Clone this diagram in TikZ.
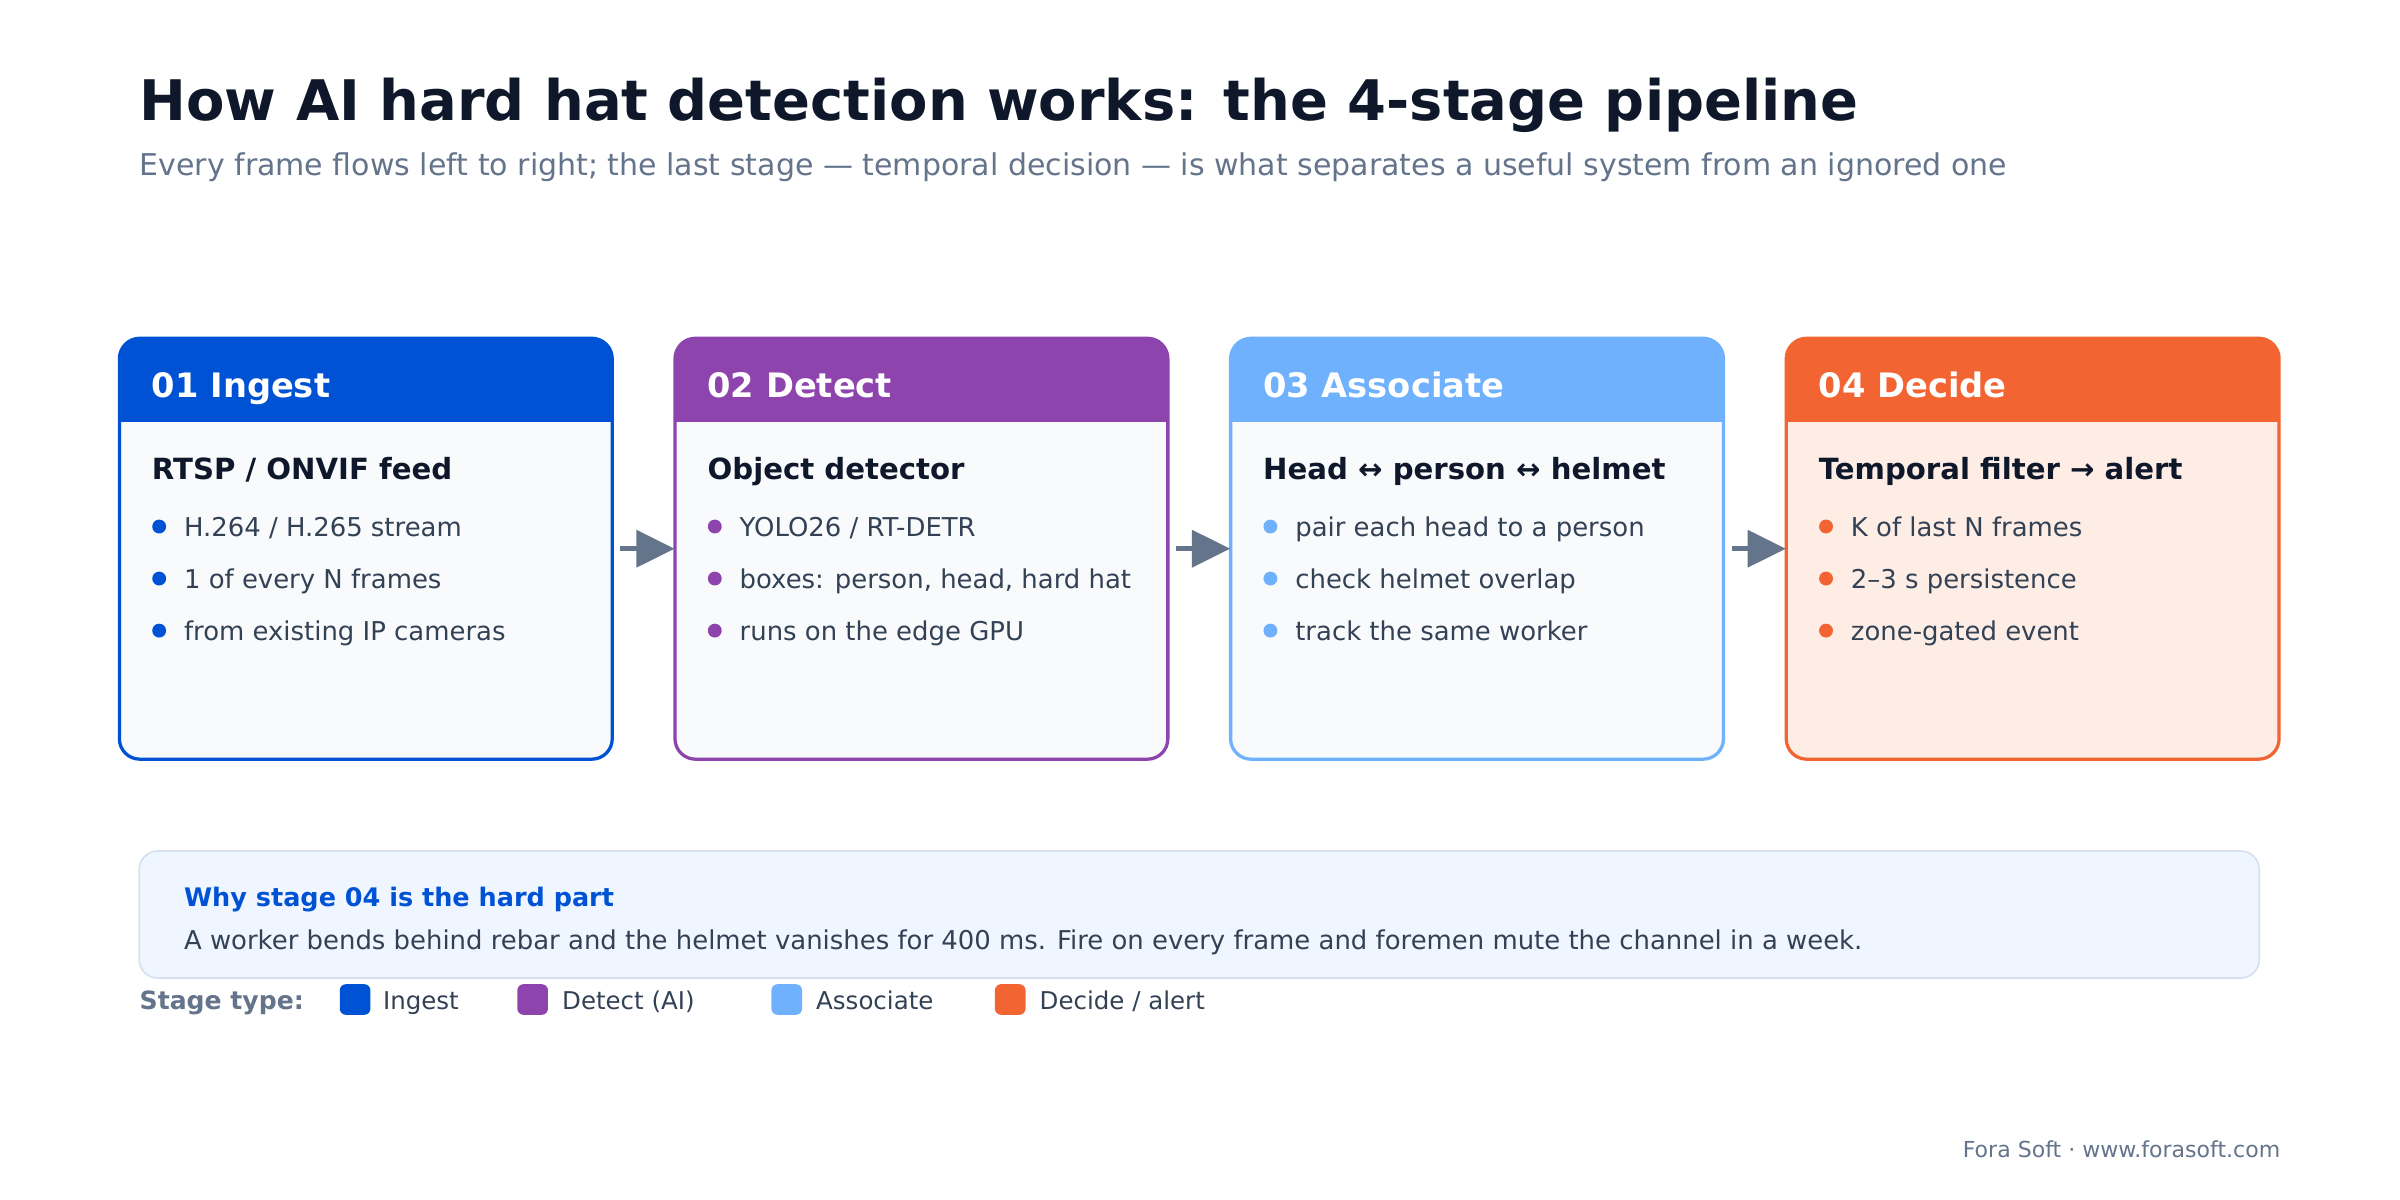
\documentclass[tikz,border=0pt]{standalone}
\usepackage{fontspec}
\setmainfont{DejaVu Sans}
\usetikzlibrary{arrows.meta}
\definecolor{cA}{HTML}{0052D4}
\definecolor{cB}{HTML}{8E44AD}
\definecolor{cC}{HTML}{6FB1FC}
\definecolor{cD}{HTML}{F26532}
\definecolor{bodyF}{HTML}{F8FAFC}
\definecolor{bodyD}{HTML}{FDEDE5}
\definecolor{ttl}{HTML}{0F172A}
\definecolor{sub}{HTML}{64748B}
\definecolor{txt}{HTML}{334155}
\definecolor{noteF}{HTML}{EFF6FF}
\definecolor{noteB}{HTML}{D6E0EE}
\tikzset{
 tx/.style={text height=0.72em,text depth=0.2em,yshift=-2.3pt},
 hd/.style={tx,yshift=-1.5pt,anchor=west,font=\fontsize{16.5}{20}\selectfont\bfseries,text=white,inner sep=0},
 sb/.style={tx,anchor=west,font=\fontsize{14.3}{17}\selectfont\bfseries,text=ttl,inner sep=0},
 bl/.style={tx,anchor=west,font=\fontsize{12.7}{15}\selectfont,text=txt,inner sep=0},
 lg/.style={tx,anchor=west,font=\fontsize{12}{14}\selectfont,text=txt,inner sep=0},
 arr/.style={draw=sub,line width=2.2pt,-{Triangle[length=18.75pt,width=18pt]},shorten <=3.75pt}
}
\newcommand{\mycard}[9]{%
 \node[minimum width=241.5pt,minimum height=206.25pt,inner sep=0] (#9) at (#1+161,358.5) {};
 \begin{scope}
 \clip[rounded corners=10pt] (#1,221) rectangle (#1+322,496);
 \fill[#3] (#1,221) rectangle (#1+322,496);
 \fill[#2] (#1,221) rectangle (#1+322,276);
 \end{scope}
 \draw[#2,line width=1.6pt,rounded corners=10pt] (#1,221) rectangle (#1+322,496);
 \node[hd] (#9h) at (#1+21,251) {#4};
 \node[sb] (#9s) at (#1+21,307) {#5};
 \fill[#2] (#1+26,344) circle (3.4pt);
 \fill[#2] (#1+26,378) circle (3.4pt);
 \fill[#2] (#1+26,412) circle (3.4pt);
 \node[bl] (#9a) at (#1+42,344) {#6};
 \node[bl] (#9b) at (#1+42,378) {#7};
 \node[bl] (#9c) at (#1+42,412) {#8};
}
\begin{document}
\begin{tikzpicture}[x=0.75pt,y=-0.75pt]
\useasboundingbox[fill=white] (0,0) rectangle (1568,784);
\node[tx,yshift=-6pt,anchor=west,inner sep=0,font=\fontsize{27.4}{32}\selectfont\bfseries,text=ttl] (title) at (91,64) {How AI hard hat detection works: the 4-stage pipeline};
\node[tx,anchor=west,inner sep=0,font=\fontsize{14.7}{17}\selectfont,text=sub] (subt) at (91,108) {Every frame flows left to right; the last stage — temporal decision — is what separates a useful system from an ignored one};
\mycard{78}{cA}{bodyF}{01 Ingest}{RTSP / ONVIF feed}{H.264 / H.265 stream}{1 of every N frames}{from existing IP cameras}{c1}
\mycard{441}{cB}{bodyF}{02 Detect}{Object detector}{YOLO26 / RT-DETR}{boxes: person, head, hard hat}{runs on the edge GPU}{c2}
\mycard{804}{cC}{bodyF}{03 Associate}{Head ↔ person ↔ helmet}{pair each head to a person}{check helmet overlap}{track the same worker}{c3}
\mycard{1167}{cD}{bodyD}{04 Decide}{Temporal filter → alert}{K of last N frames}{2–3 s persistence}{zone-gated event}{c4}
\draw[arr] (c1.east) -- (c2.west);
\draw[arr] (c2.east) -- (c3.west);
\draw[arr] (c3.east) -- (c4.west);
\draw[fill=noteF,draw=noteB,line width=0.8pt,rounded corners=9pt] (91,556) rectangle (1476,639);
\node[tx,anchor=west,inner sep=0,font=\fontsize{12.5}{15}\selectfont\bfseries,text=cA] (nt) at (120,586) {Why stage 04 is the hard part};
\node[tx,anchor=west,inner sep=0,font=\fontsize{12.7}{15}\selectfont,text=txt] (nx) at (120,614) {A worker bends behind rebar and the helmet vanishes for 400 ms. Fire on every frame and foremen mute the channel in a week.};
\node[tx,anchor=west,inner sep=0,font=\fontsize{12.3}{14}\selectfont\bfseries,text=sub] (lt) at (91,653) {Stage type:};
\fill[cA,rounded corners=3pt] (222,643) rectangle (242,663);
\node[lg] (l1) at (250,653) {Ingest};
\fill[cB,rounded corners=3pt] (338,643) rectangle (358,663);
\node[lg] (l2) at (367,653) {Detect (AI)};
\fill[cC,rounded corners=3pt] (504,643) rectangle (524,663);
\node[lg] (l3) at (533,653) {Associate};
\fill[cD,rounded corners=3pt] (650,643) rectangle (670,663);
\node[lg] (l4) at (679,653) {Decide / alert};
\node[tx,anchor=east,inner sep=0,font=\fontsize{10.8}{12}\selectfont,text=sub] (ft) at (1490,750) {Fora Soft · www.forasoft.com};
\end{tikzpicture}
\end{document}
